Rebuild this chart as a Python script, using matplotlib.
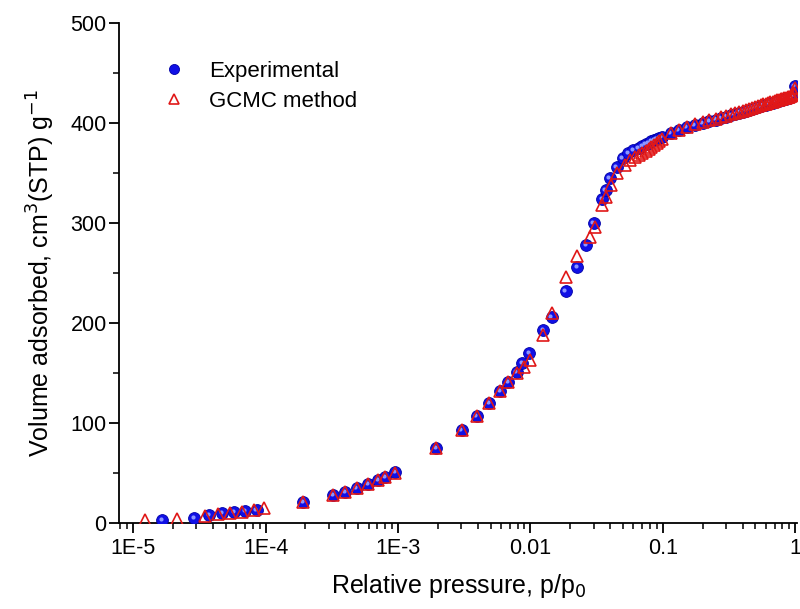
import numpy as np
import matplotlib.pyplot as plt
import matplotlib.ticker as mticker
from matplotlib.transforms import offset_copy

plt.rcParams["font.family"] = ["Liberation Sans", "DejaVu Sans"]

# experimental isotherm
p_exp = [1.66e-5, 2.9e-5, 3.75e-5, 4.7e-5, 5.8e-5, 7.0e-5, 8.6e-5,
         1.92e-4, 3.24e-4, 3.98e-4, 4.9e-4, 5.94e-4, 7.1e-4, 7.98e-4, 9.5e-4,
         1.94e-3, 3.04e-3, 3.95e-3, 4.9e-3, 5.9e-3, 6.8e-3, 7.9e-3, 8.7e-3, 9.8e-3,
         0.0125, 0.0145, 0.0185, 0.0225, 0.0265, 0.0301, 0.035, 0.0371, 0.0398,
         0.0447, 0.050, 0.0547, 0.06, 0.066, 0.07, 0.074, 0.078, 0.082, 0.086,
         0.09, 0.094, 0.098, 0.115, 0.132, 0.152, 0.175, 0.2,
         0.225, 0.25, 0.275, 0.3, 0.325, 0.35, 0.375, 0.4, 0.425, 0.45, 0.475,
         0.5, 0.525, 0.55, 0.575, 0.6, 0.625, 0.65, 0.675, 0.7, 0.725, 0.75,
         0.775, 0.8, 0.825, 0.85, 0.875, 0.9, 0.925, 0.95, 0.975, 0.995]
v_exp = [3, 5, 8, 10, 11, 12, 13,
         21, 28, 31, 35, 39, 43, 46, 51,
         75, 93, 107, 120, 132, 141, 151, 160, 170,
         193, 206, 232, 256, 278, 300, 324, 333, 345,
         356, 365, 370, 373, 375, 377, 379, 380, 382, 383,
         384, 385, 386, 390, 393, 396, 398, 400,
         402, 403.5, 405, 406.5, 408, 409, 410.5, 411.5, 412.5, 413.5, 414.5,
         415.5, 416.5, 417, 418, 418.5, 419.5, 420, 420.5, 421, 422, 422.5,
         423, 423.5, 424, 424.5, 425, 425.5, 426, 427, 428, 437]

# GCMC simulated isotherm
p_gcmc = [1.23e-5, 2.15e-5, 3.5e-5, 4.4e-5, 5.4e-5, 6.6e-5, 8.2e-5, 9.8e-5,
          1.92e-4, 3.24e-4, 3.98e-4, 4.9e-4, 5.94e-4, 7.1e-4, 7.98e-4, 9.5e-4,
          1.94e-3, 3.04e-3, 3.95e-3, 4.9e-3, 5.9e-3, 6.8e-3, 7.9e-3, 8.9e-3, 9.9e-3,
          0.0125, 0.0145, 0.0185, 0.0225, 0.0281, 0.0305, 0.035, 0.0375, 0.0405,
          0.0447, 0.0517, 0.0565, 0.0615, 0.066, 0.07, 0.074, 0.078, 0.082,
          0.086, 0.09, 0.094, 0.098, 0.115, 0.132, 0.152, 0.175, 0.2,
          0.225, 0.25, 0.275, 0.3, 0.325, 0.35, 0.375, 0.4, 0.425, 0.45, 0.475,
          0.5, 0.525, 0.55, 0.575, 0.6, 0.625, 0.65, 0.675, 0.7, 0.725, 0.75,
          0.775, 0.8, 0.825, 0.85, 0.875, 0.9, 0.925, 0.95, 0.975, 0.985, 0.995]
v_gcmc = [3, 4, 7, 9, 10, 11, 13, 15,
          21, 28, 31, 35, 39, 43, 46, 50,
          75, 93, 107, 120, 132, 141, 150, 156, 163,
          188, 210, 246, 267, 286, 296, 318, 326, 338,
          350, 358, 363, 366, 368, 370, 372, 374, 376,
          378, 380, 382, 384, 390, 393, 396, 399, 401,
          403, 404.5, 406, 407.5, 409, 410, 411.5, 412.5, 413.5, 414.5, 415.5,
          416.5, 417.5, 418, 419, 419.5, 420.5, 421, 421.5, 422, 423, 423.5,
          424, 424.5, 425, 425.5, 426, 426.5, 427, 428, 429, 430, 435]

x_ticks = [1e-5, 1e-4, 1e-3, 1e-2, 1e-1, 1]
x_labels = ["1E-5", "1E-4", "1E-3", "0.01", "0.1", "1"]

fig = plt.figure(figsize=(8, 6.09), dpi=100)
ax = fig.add_axes([0.149, 0.141, 0.8475, 0.821])

# blue "spheres": dark body plus a small highlight shifted up-left
ax.plot(p_exp, v_exp, "o", color="#1010e6", markeredgecolor="#0000a8",
        markeredgewidth=0.6, markersize=8.5, label="Experimental", zorder=3)
hl = offset_copy(ax.transData, fig=fig, x=-1.5, y=1.5, units="dots")
ax.plot(p_exp, v_exp, "o", color="#8c96ff", markeredgewidth=0,
        markersize=3, transform=hl, zorder=3.5)

ax.plot(p_gcmc, v_gcmc, "^", markerfacecolor="none", markeredgecolor="#e01818",
        markeredgewidth=1.2, markersize=9, label="GCMC method", zorder=4)

ax.set_xscale("log")
ax.set_xlim(7.84e-6, 1.035)
ax.set_ylim(0, 500)
ax.set_xticks(x_ticks)
ax.set_xticklabels(x_labels)
ax.xaxis.set_minor_locator(mticker.LogLocator(base=10, subs=np.arange(2, 10)))
ax.xaxis.set_minor_formatter(mticker.NullFormatter())
ax.set_yticks(np.arange(0, 501, 100))
ax.yaxis.set_minor_locator(mticker.MultipleLocator(50))

for s in ["top", "right"]:
    ax.spines[s].set_visible(False)
for s in ["left", "bottom"]:
    ax.spines[s].set_linewidth(1.3)

ax.tick_params(which="major", direction="out", length=7, width=1.3,
               labelsize=15.5, pad=4)
ax.tick_params(axis="y", which="major", pad=2)
ax.tick_params(which="minor", direction="out", length=4, width=1.1)

ax.set_xlabel("Relative pressure, p/p$_0$", fontsize=18, labelpad=9)
ax.set_ylabel("Volume adsorbed, cm$^3$(STP) g$^{-1}$", fontsize=18, labelpad=10)

leg = ax.legend(loc="upper left", bbox_to_anchor=(0.025, 0.955), frameon=False,
                fontsize=16, handletextpad=0.6, labelspacing=0.4,
                markerscale=0.85, borderaxespad=0.3)

fig.savefig("out.png", dpi=100)
